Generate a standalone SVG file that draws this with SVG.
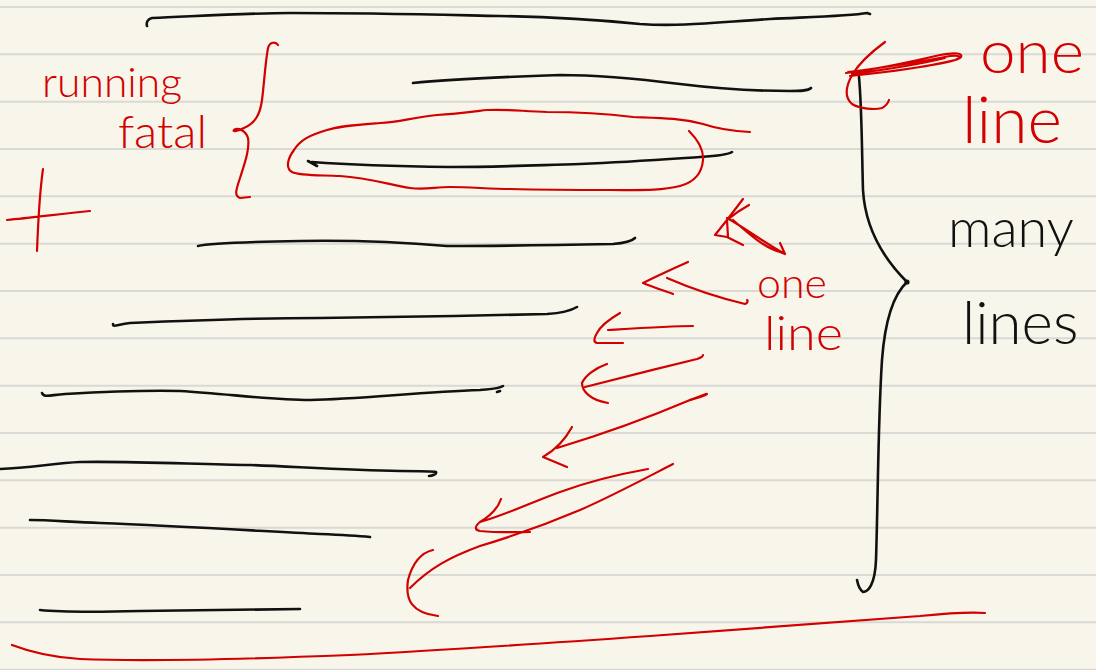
<svg xmlns="http://www.w3.org/2000/svg" width="1096" height="670" viewBox="0 0 1096 670">
<style>
.rule{stroke:#d9d9d5;stroke-width:2;fill:none}
.ink{stroke:#111;stroke-width:2.6;fill:none;stroke-linecap:round;stroke-linejoin:round}
.red{stroke:#d20000;stroke-width:2.2;fill:none;stroke-linecap:round;stroke-linejoin:round}
.tr{fill:#d20000;font-family:Lato,"Liberation Sans",sans-serif;font-weight:300}
.tb{fill:#111;font-family:Lato,"Liberation Sans",sans-serif;font-weight:300}
</style>
<rect width="1096" height="670" fill="#f8f6ea"/>
<g id="rules">
<line class="rule" x1="0" y1="7" x2="1096" y2="7"/>
<line class="rule" x1="0" y1="54.3" x2="1096" y2="54.3"/>
<line class="rule" x1="0" y1="101.7" x2="1096" y2="101.7"/>
<line class="rule" x1="0" y1="149" x2="1096" y2="149"/>
<line class="rule" x1="0" y1="196.3" x2="1096" y2="196.3"/>
<line class="rule" x1="0" y1="243.7" x2="1096" y2="243.7"/>
<line class="rule" x1="0" y1="291" x2="1096" y2="291"/>
<line class="rule" x1="0" y1="338.3" x2="1096" y2="338.3"/>
<line class="rule" x1="0" y1="385.7" x2="1096" y2="385.7"/>
<line class="rule" x1="0" y1="433" x2="1096" y2="433"/>
<line class="rule" x1="0" y1="480.3" x2="1096" y2="480.3"/>
<line class="rule" x1="0" y1="527.7" x2="1096" y2="527.7"/>
<line class="rule" x1="0" y1="575" x2="1096" y2="575"/>
<line class="rule" x1="0" y1="622.3" x2="1096" y2="622.3"/>
<line class="rule" x1="0" y1="669.7" x2="1096" y2="669.7"/>
</g>
<g id="text-lines">
<path class="ink" d="M147,26 C146,22 148,19 152,18 C200,16 250,13 290,13 C380,13 450,15 500,16 C560,17 600,20 640,24 C680,27 720,22 770,19 C810,17 850,16 867,13 L870,14"/>
<path class="ink" d="M413,83 C450,79 500,77 560,75 C600,75 640,79 680,84 C720,89 760,91 790,91 C800,91 808,91 811,88"/>
<path class="ink" d="M308,161 L317,166 M312,162 C340,164 380,166 450,167 C500,167 540,165 580,164 C630,162 670,159 700,157 C715,156 728,155 732,152"/>
<path class="ink" d="M198,246 C210,243 240,242 300,241 C360,240 400,242 447,246 C500,246 560,245 613,244 C625,243 632,241 635,238"/>
<path class="ink" d="M113,324 C113,328 118,324 130,323 C200,320 260,318 320,318 C400,317 470,316 547,314 C562,313 572,310 577,307"/>
<path class="ink" d="M42,393 C44,398 50,395 65,394 C100,392 140,390 180,391 C230,394 270,400 310,400 C360,399 420,392 480,390 C490,389 498,389 503,386 M497,392 L500,391"/>
<path class="ink" d="M0,469 C30,468 55,463 80,462 C130,461 190,464 250,465 C300,467 350,470 400,471 C420,471 432,471 436,472 C437,474 432,476 429,476"/>
<path class="ink" d="M30,520 C50,520 70,522 100,523 C180,526 260,531 320,534 C345,535 360,536 370,537"/>
<path class="ink" d="M40,610 C60,612 100,612 140,611 C200,610 260,609 300,609"/>
</g>
<g id="connectors">
<path class="red" d="M750,132 C730,131 715,128 703,124 C680,118 660,118 633,117 C600,113 570,112 547,112 C520,111 505,109 487,110 C470,112 455,114 437,115 C410,118 400,122 380,123 C355,125 340,126 327,130 C310,135 300,140 294,150 C288,158 285,168 292,172 C300,176 320,175 340,176 C370,178 390,185 410,188 C425,190 435,187 450,187 C470,187 490,189 510,189 C550,190 580,190 610,190 C640,190 660,191 680,186 C695,182 702,172 703,160 C704,148 696,138 689,131"/>
<path class="red" d="M278,45 C276,42 270,41 268,48 C265,65 264,85 262,100 C260,115 255,123 244,128 C238,131 232,132 234,130 C238,127 246,131 248,138 C250,150 244,165 240,178 C236,190 234,196 240,198 L250,197"/>
<path class="red" d="M43,169 C40,190 38,225 37,251 M7,220 C30,218 60,214 90,211"/>
<path class="red" d="M12,645 C25,650 45,657 80,659 C150,662 250,659 350,655 C450,650 550,643 650,636 C750,629 850,622 920,616 C950,613 970,612 985,613"/>
<path class="ink" d="M859,77 C862,110 862,160 863,190 C865,225 880,255 907,282 C893,295 885,320 882,360 C878,420 878,500 876,560 C875,585 868,592 863,592 C860,590 858,585 857,580"/>
<circle cx="907" cy="282" r="2.6" fill="#111"/>
<path class="red" d="M885,42 C870,53 858,65 852,75 C845,88 845,98 852,104 C860,109 875,110 882,108 C886,106 888,103 889,100"/>
<path class="red" d="M846,73 C870,70 910,62 940,55 C955,52 965,53 960,58 C955,62 920,68 858,75 M848,72 C880,68 920,62 950,56 C960,55 963,57 955,60 C930,66 890,72 850,76 M852,74 C890,69 925,63 945,58"/>
<path class="red" d="M743,199 L727,220 M749,205 C740,210 733,215 727,220 L715,235 L727,237 L743,245 M727,220 L728,237 M727,218 C745,228 760,240 785,254 L780,243 M733,220 C750,235 765,248 780,252 L785,254"/>
<path class="red" d="M688,262 C670,270 655,277 643,283 C655,288 665,291 673,294 M667,278 C690,288 720,298 745,304 C748,303 748,300 747,300"/>
<path class="red" d="M693,326 C670,326 640,328 608,330 M620,313 C608,320 600,327 597,333 C594,338 593,342 597,343 L623,343"/>
<path class="red" d="M703,355 C703,357 700,358 697,359 C660,368 620,378 585,387 M607,364 C595,368 585,376 582,383 C582,391 590,400 608,403"/>
<path class="red" d="M707,394 C705,396 700,397 690,400 C650,417 600,435 557,448 M572,427 C565,440 555,450 543,457 L567,467"/>
<path class="red" stroke-width="4" d="M706,394 L690,400"/>
<path class="red" d="M648,469 C620,474 590,481 560,492 C530,503 505,515 480,522 M501,499 C498,508 490,516 480,522 C475,526 474,530 480,531 C500,533 520,532 530,532"/>
<path class="red" d="M673,464 C640,481 610,497 580,510 C540,527 510,537 480,546 C450,557 430,568 410,588 M433,550 C420,553 412,565 408,580 C405,600 412,613 438,616"/>
</g>
<g id="label-running"><text class="tr" x="42" y="97" font-size="42" textLength="140" lengthAdjust="spacingAndGlyphs">running</text></g>
<g id="label-fatal"><text class="tr" x="118" y="148" font-size="46" textLength="89" lengthAdjust="spacingAndGlyphs">fatal</text></g>
<g id="label-one-line-top"><text class="tr" x="980" y="73" font-size="60" textLength="104" lengthAdjust="spacingAndGlyphs">one</text><text class="tr" x="962" y="143" font-size="66" textLength="100" lengthAdjust="spacingAndGlyphs">line</text></g>
<g id="label-one-line-mid"><text class="tr" x="757" y="298" font-size="42" textLength="70" lengthAdjust="spacingAndGlyphs">one</text><text class="tr" x="764" y="350" font-size="48" textLength="79" lengthAdjust="spacingAndGlyphs">line</text></g>
<g id="label-many-lines"><text class="tb" x="948" y="247" font-size="54">many</text><text class="tb" x="962" y="344" font-size="60">lines</text></g>
</svg>
